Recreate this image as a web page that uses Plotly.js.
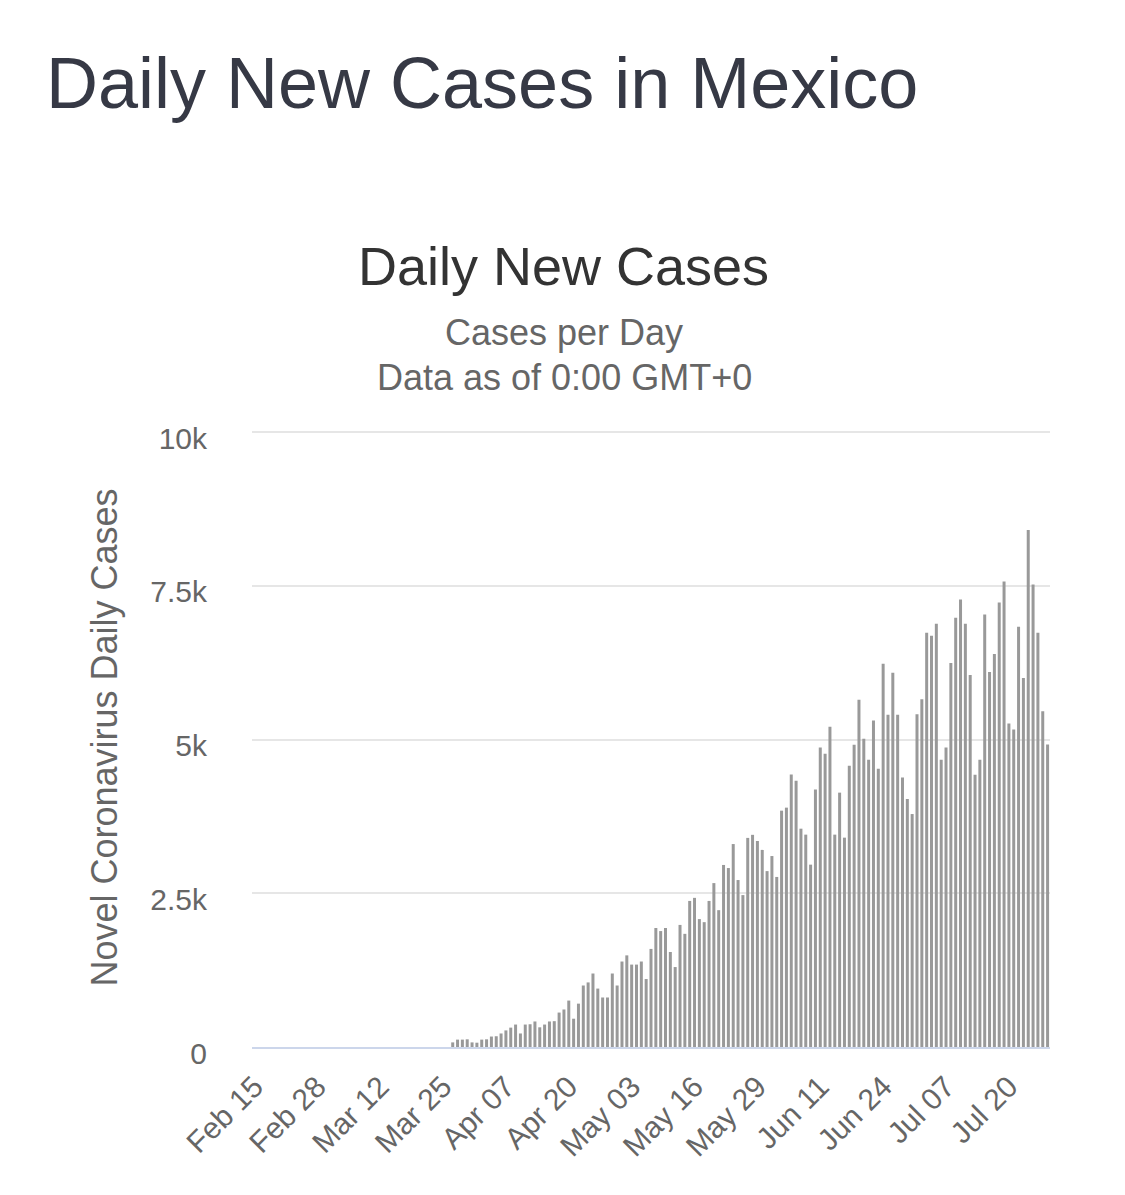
<!DOCTYPE html>
<html>
<head>
<meta charset="utf-8">
<script src="https://cdn.plot.ly/plotly-3.0.1.min.js"></script>
<style>
  html, body { margin: 0; padding: 0; background: #ffffff; }
  #chart { width: 1125px; height: 1195px; }
</style>
</head>
<body>
<div id="chart"></div>
<script>
// ---- Data ----
const datesFeb = ["Feb 15","Feb 16","Feb 17","Feb 18","Feb 19","Feb 20","Feb 21","Feb 22","Feb 23","Feb 24","Feb 25","Feb 26","Feb 27","Feb 28","Feb 29"];
const datesMar = ["Mar 01","Mar 02","Mar 03","Mar 04","Mar 05","Mar 06","Mar 07","Mar 08","Mar 09","Mar 10","Mar 11","Mar 12","Mar 13","Mar 14","Mar 15","Mar 16","Mar 17","Mar 18","Mar 19","Mar 20","Mar 21","Mar 22","Mar 23","Mar 24","Mar 25","Mar 26","Mar 27","Mar 28","Mar 29","Mar 30","Mar 31"];
const datesApr = ["Apr 01","Apr 02","Apr 03","Apr 04","Apr 05","Apr 06","Apr 07","Apr 08","Apr 09","Apr 10","Apr 11","Apr 12","Apr 13","Apr 14","Apr 15","Apr 16","Apr 17","Apr 18","Apr 19","Apr 20","Apr 21","Apr 22","Apr 23","Apr 24","Apr 25","Apr 26","Apr 27","Apr 28","Apr 29","Apr 30"];
const datesMay = ["May 01","May 02","May 03","May 04","May 05","May 06","May 07","May 08","May 09","May 10","May 11","May 12","May 13","May 14","May 15","May 16","May 17","May 18","May 19","May 20","May 21","May 22","May 23","May 24","May 25","May 26","May 27","May 28","May 29","May 30","May 31"];
const datesJun = ["Jun 01","Jun 02","Jun 03","Jun 04","Jun 05","Jun 06","Jun 07","Jun 08","Jun 09","Jun 10","Jun 11","Jun 12","Jun 13","Jun 14","Jun 15","Jun 16","Jun 17","Jun 18","Jun 19","Jun 20","Jun 21","Jun 22","Jun 23","Jun 24","Jun 25","Jun 26","Jun 27","Jun 28","Jun 29","Jun 30"];
const datesJul = ["Jul 01","Jul 02","Jul 03","Jul 04","Jul 05","Jul 06","Jul 07","Jul 08","Jul 09","Jul 10","Jul 11","Jul 12","Jul 13","Jul 14","Jul 15","Jul 16","Jul 17","Jul 18","Jul 19","Jul 20","Jul 21","Jul 22","Jul 23","Jul 24","Jul 25","Jul 26","Jul 27","Jul 28"];

const casesFeb = [0,0,0,0,0,0,0,0,0,0,0,0,0,0,0];
const casesMar = [0,0,0,0,0,0,0,0,0,0,0,0,0,0,0,0,0,0,0,0,0,0,0,0,0,0,75,120,120,125,75];
const casesApr = [70,120,125,170,175,220,270,315,365,220,365,370,415,320,365,415,420,560,610,755,460,705,1000,1050,1195,950,805,805,1195,1000];
const casesMay = [1390,1490,1340,1340,1390,1105,1595,1935,1885,1935,1545,1300,1985,1840,2375,2425,2080,2030,2375,2665,2225,2960,2910,3300,2715,2470,3400,3450,3350,3205,2860];
const casesJun = [3105,2765,3843,3892,4429,4331,3550,3453,2965,4185,4868,4770,5209,3453,4136,3404,4575,4916,5648,5014,4672,5307,4526,6233,5404,6087,5404,4383,4033,3788];
const casesJul = [5409,5655,6736,6687,6883,4672,4869,6244,6981,7276,6883,6048,4427,4672,7031,6097,6392,7227,7571,5262,5164,6834,6001,8406,7522,6736,5458,4918];

const xTickLabels = ["Feb 15","Feb 28","Mar 12","Mar 25","Apr 07","Apr 20","May 03","May 16","May 29","Jun 11","Jun 24","Jul 07","Jul 20"];
const yTickValues = [0, 2500, 5000, 7500, 10000];
const yTickLabels = ["0", "2.5k", "5k", "7.5k", "10k"];

const dates = [].concat(datesFeb, datesMar, datesApr, datesMay, datesJun, datesJul);
const cases = [].concat(casesFeb, casesMar, casesApr, casesMay, casesJun, casesJul);

// ---- Layout geometry (pixels) ----
const W = 1125, H = 1195;
const L = 252, R = 1050, T = 428, B = 1047;
const pw = R - L, ph = B - T;
const px = x => (x - L) / pw;
const py = y => (B - y) / ph;
// top of the y range chosen so that 10k sits at pixel row 432
const yTop = 10000 * (B - T) / (B - 432);

const FONT = '"Liberation Sans", Arial, Helvetica, sans-serif';

const trace = {
  type: 'bar',
  x: dates,
  y: cases,
  marker: { color: '#999999', line: { width: 0 } },
  width: 0.62,
  hoverinfo: 'x+y',
  name: 'Daily Cases'
};

const layout = {
  width: W, height: H,
  margin: { l: L, r: W - R, t: T, b: H - B, pad: 0 },
  paper_bgcolor: '#ffffff',
  plot_bgcolor: '#ffffff',
  showlegend: false,
  font: { family: FONT, color: '#666666' },
  xaxis: {
    type: 'category',
    categoryorder: 'array',
    categoryarray: dates,
    range: [-0.5, dates.length - 0.5],
    tickmode: 'array',
    tickvals: xTickLabels,
    ticktext: xTickLabels,
    tickangle: -45,
    tickfont: { family: FONT, size: 30, color: '#666666' },
    showgrid: false,
    zeroline: false,
    showline: true,
    linecolor: '#ccd6eb',
    linewidth: 2,
    ticks: '',
    ticklabelstandoff: 8,
    fixedrange: true
  },
  yaxis: {
    range: [0, yTop],
    tickmode: 'array',
    tickvals: yTickValues,
    ticktext: yTickLabels,
    tickfont: { family: FONT, size: 30, color: '#666666' },
    showgrid: true,
    gridcolor: '#e6e6e6',
    gridwidth: 2,
    zeroline: false,
    showline: false,
    ticks: '',
    ticklabelstandoff: 44,
    ticklabelshift: 6,
    title: { text: 'Novel Coronavirus Daily Cases', font: { family: FONT, size: 36, color: '#666666' }, standoff: 21 },
    fixedrange: true
  },
  annotations: [
    { text: 'Daily New Cases in Mexico', xref: 'paper', yref: 'paper', x: px(44), y: py(83),
      xanchor: 'left', yanchor: 'middle', showarrow: false,
      font: { family: FONT, size: 72, color: '#363945' } },
    { text: 'Daily New Cases', xref: 'paper', yref: 'paper', x: px(563), y: py(266),
      xanchor: 'center', yanchor: 'middle', showarrow: false,
      font: { family: FONT, size: 54, color: '#333333' } },
    { text: 'Cases per Day', xref: 'paper', yref: 'paper', x: px(564), y: py(333),
      xanchor: 'center', yanchor: 'middle', showarrow: false,
      font: { family: FONT, size: 36, color: '#666666' } },
    { text: 'Data as of 0:00 GMT+0', xref: 'paper', yref: 'paper', x: px(564), y: py(377),
      xanchor: 'center', yanchor: 'middle', showarrow: false,
      font: { family: FONT, size: 36, color: '#666666' } }
  ]
};

Plotly.newPlot('chart', [trace], layout, { displayModeBar: false, responsive: false });
</script>
</body>
</html>
